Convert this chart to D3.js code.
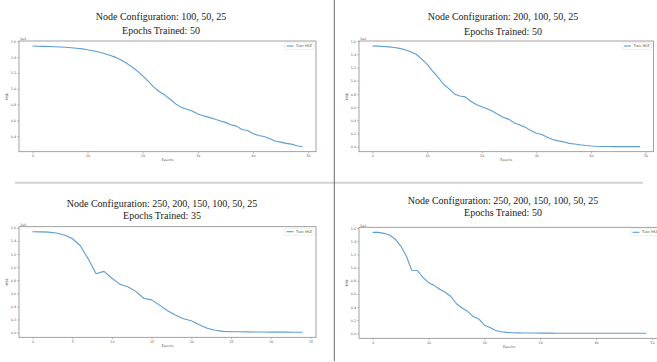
<!DOCTYPE html>
<html>
<head>
<meta charset="utf-8">
<script src="https://cdn.jsdelivr.net/npm/d3@7"></script>
<style>
  html, body { margin: 0; padding: 0; background: #fff; }
  svg { display: block; }
</style>
</head>
<body>
<svg id="chart" width="657" height="362"></svg>
<script>
// --- data ---
const titles100 = ["Node Configuration: 100, 50, 25", "Epochs Trained: 50"];
const titles200 = ["Node Configuration: 200, 100, 50, 25", "Epochs Trained: 50"];
const titles250a = ["Node Configuration: 250, 200, 150, 100, 50, 25", "Epochs Trained: 35"];
const titles250b = ["Node Configuration: 250, 200, 150, 100, 50, 25", "Epochs Trained: 50"];

const mse100 = [1.540, 1.538, 1.536, 1.534, 1.531, 1.528, 1.524, 1.519, 1.512, 1.504,
  1.494, 1.480, 1.464, 1.445, 1.424, 1.400, 1.366, 1.325, 1.280, 1.225,
  1.163, 1.095, 1.020, 0.965, 0.920, 0.867, 0.808, 0.765, 0.740, 0.720,
  0.680, 0.660, 0.638, 0.617, 0.596, 0.575, 0.545, 0.528, 0.486, 0.473,
  0.435, 0.410, 0.397, 0.370, 0.340, 0.325, 0.310, 0.300, 0.280, 0.268];

const mse200 = [1.525, 1.523, 1.518, 1.512, 1.503, 1.490, 1.470, 1.440, 1.400, 1.330,
  1.250, 1.150, 1.055, 0.950, 0.880, 0.800, 0.770, 0.755, 0.690, 0.640,
  0.605, 0.575, 0.537, 0.490, 0.445, 0.415, 0.360, 0.330, 0.295, 0.245,
  0.205, 0.185, 0.145, 0.110, 0.090, 0.075, 0.052, 0.043, 0.030, 0.020,
  0.013, 0.008, 0.005, 0.004, 0.003, 0.003, 0.002, 0.002, 0.002, 0.002];

const mse250a = [1.540, 1.538, 1.534, 1.520, 1.490, 1.437, 1.330, 1.130, 0.900, 0.935,
  0.830, 0.740, 0.700, 0.630, 0.525, 0.500, 0.420, 0.335, 0.270, 0.213,
  0.183, 0.122, 0.066, 0.036, 0.020, 0.015, 0.013, 0.012, 0.011, 0.010,
  0.009, 0.008, 0.008, 0.007, 0.006];

const mse250b = [1.535, 1.534, 1.520, 1.495, 1.435, 1.330, 1.180, 0.960, 0.955, 0.850,
  0.770, 0.730, 0.670, 0.625, 0.560, 0.450, 0.385, 0.335, 0.255, 0.220,
  0.125, 0.090, 0.045, 0.025, 0.015, 0.010, 0.008, 0.006, 0.005, 0.005,
  0.004, 0.004, 0.004, 0.003, 0.003, 0.003, 0.003, 0.003, 0.002, 0.002,
  0.002, 0.002, 0.002, 0.002, 0.002, 0.002, 0.002, 0.002, 0.002, 0.002];

const xTicks50 = [0, 10, 20, 30, 40, 50];
const xTicks35 = [0, 5, 10, 15, 20, 25, 30, 35];
const yTicks = [0.0, 0.2, 0.4, 0.6, 0.8, 1.0, 1.2, 1.4, 1.6];
const legendLabel = "Train MSE";
const xLabel = "Epochs";
const yLabel = "MSE";
const offsetLabel = "1e6";

// panel placement (axes rectangles in page pixels)
const panels = [
  { titles: titles100, values: mse100, xTicks: xTicks50, titleY: [20, 34], box: { x0: 19, x1: 316, y0: 41, y1: 151.7 }, cx: 161, legendDx: 0 },
  { titles: titles200, values: mse200, xTicks: xTicks50, titleY: [20, 34.5], box: { x0: 359, x1: 653.5, y0: 41, y1: 151.7 }, cx: 503, legendDx: 0 },
  { titles: titles250a, values: mse250a, xTicks: xTicks35, titleY: [206.8, 219.2], box: { x0: 19, x1: 316, y0: 226.7, y1: 337.3 }, cx: 162, legendDx: 0 },
  { titles: titles250b, values: mse250b, xTicks: xTicks50, titleY: [204.2, 216.4], box: { x0: 359, x1: 660, y0: 227.3, y1: 338.3 }, cx: 503, legendDx: 2 },
];

const svg = d3.select("#chart");
const lineColor = "#5d9dd3";
const smallFont = "DejaVu Sans, sans-serif";

panels.forEach((p, i) => {
  const g = svg.append("g");
  const n = p.values.length;

  // matplotlib style 5% margins
  const xPad = (n - 1) * 0.05;
  const x = d3.scaleLinear().domain([-xPad, n - 1 + xPad]).range([p.box.x0, p.box.x1]);
  const [lo, hi] = d3.extent(p.values);
  const yPad = (hi - lo) * 0.05;
  const y = d3.scaleLinear().domain([lo - yPad, hi + yPad]).range([p.box.y1, p.box.y0]);

  // titles
  p.titles.forEach((t, k) => {
    g.append("text")
      .attr("x", p.cx)
      .attr("y", p.titleY[k])
      .attr("text-anchor", "middle")
      .style("font-family", "Liberation Serif, Times New Roman, serif")
      .style("font-size", "10px")
      .style("fill", "#1a1a1a")
      .text(t);
  });

  // axes
  const yt = yTicks.filter(v => v >= y.domain()[0] - 1e-9 && v <= y.domain()[1] + 1e-9);
  const yAxis = g.append("g")
    .attr("transform", `translate(${p.box.x0},0)`)
    .call(d3.axisLeft(y).tickValues(yt).tickSize(2).tickPadding(1).tickFormat(d3.format(".1f")));
  const xAxis = g.append("g")
    .attr("transform", `translate(0,${p.box.y1})`)
    .call(d3.axisBottom(x).tickValues(p.xTicks).tickSize(2).tickPadding(1).tickFormat(d3.format("d")));

  [yAxis, xAxis].forEach(a => {
    a.select(".domain").remove();
    a.selectAll(".tick line").attr("stroke", "#888").attr("stroke-width", 0.5);
    a.selectAll(".tick text")
      .style("font-family", smallFont)
      .style("font-size", "3.3px")
      .style("fill", "#555");
  });

  // frame
  g.append("rect")
    .attr("x", p.box.x0)
    .attr("y", p.box.y0)
    .attr("width", p.box.x1 - p.box.x0)
    .attr("height", p.box.y1 - p.box.y0)
    .attr("fill", "none")
    .attr("stroke", "#8a8a8a")
    .attr("stroke-width", 0.8);

  // curve
  const line = d3.line()
    .x((d, j) => x(j))
    .y(d => y(d));

  g.append("path")
    .datum(p.values)
    .attr("d", line)
    .attr("fill", "none")
    .attr("stroke", lineColor)
    .attr("stroke-width", 1.1)
    .attr("stroke-linejoin", "round");

  // labels
  g.append("text")
    .attr("x", (p.box.x0 + Math.min(p.box.x1, 657)) / 2 + (i === 3 ? 1 : 0))
    .attr("y", p.box.y1 + 9.5)
    .attr("text-anchor", "middle")
    .style("font-family", smallFont)
    .style("font-size", "3.3px")
    .style("fill", "#555")
    .text(xLabel);

  g.append("text")
    .attr("transform", `translate(${p.box.x0 - 11},${(p.box.y0 + p.box.y1) / 2}) rotate(-90)`)
    .attr("text-anchor", "middle")
    .style("font-family", smallFont)
    .style("font-size", "3.3px")
    .style("fill", "#555")
    .text(yLabel);

  g.append("text")
    .attr("x", p.box.x0 + 1)
    .attr("y", p.box.y0 - 0.8)
    .style("font-family", smallFont)
    .style("font-size", "3.3px")
    .style("fill", "#555")
    .text(offsetLabel);

  // legend
  const lg = g.append("g").attr("transform", `translate(${p.box.x1 - 31.5 + p.legendDx},${p.box.y0 + 1.5})`);
  lg.append("rect")
    .attr("width", 29.5)
    .attr("height", 7)
    .attr("rx", 1)
    .attr("fill", "#fff")
    .attr("stroke", "#ddd")
    .attr("stroke-width", 0.5);
  lg.append("line")
    .attr("x1", 2).attr("x2", 9)
    .attr("y1", 3.5).attr("y2", 3.5)
    .attr("stroke", lineColor)
    .attr("stroke-width", 1.1);
  lg.append("text")
    .attr("x", 11.5)
    .attr("y", 4.7)
    .style("font-family", smallFont)
    .style("font-size", "3.3px")
    .style("fill", "#555")
    .text(legendLabel);
});

// separators between the four plots
svg.append("line")
  .attr("x1", 15).attr("x2", 643)
  .attr("y1", 182.7).attr("y2", 182.7)
  .attr("stroke", "#d2d2d2")
  .attr("stroke-width", 2);
svg.append("line")
  .attr("x1", 334.3).attr("x2", 334.3)
  .attr("y1", 0).attr("y2", 361)
  .attr("stroke", "#6a6a6a")
  .attr("stroke-width", 1);
</script>
</body>
</html>
